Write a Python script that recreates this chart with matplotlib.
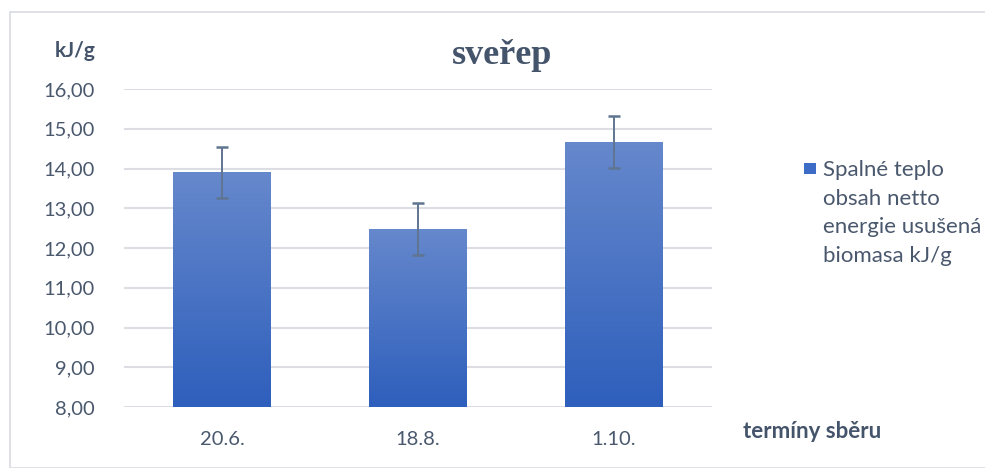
import matplotlib
matplotlib.use("Agg")
import matplotlib.pyplot as plt
import numpy as np
from matplotlib.patches import Rectangle
from matplotlib.colors import LinearSegmentedColormap

categories = ["20.6.", "18.8.", "1.10."]
values = [13.91, 12.48, 14.67]
errors = [0.64, 0.65, 0.65]
yticks = [8, 9, 10, 11, 12, 13, 14, 15, 16]
legend_label = "Spalné teplo\nobsah netto\nenergie usušená\nbiomasa kJ/g"

txt = "#4a586d"
fig = plt.figure(figsize=(9.85, 4.68), dpi=100)
# outer border
fig.patches.append(Rectangle((10/985, 0), 1.0, 1 - 12/468, transform=fig.transFigure,
                             fill=False, edgecolor="#d9dce3", linewidth=1.2))
ax = fig.add_axes([124/985, 1 - 407/468, (712-124)/985, (407-89)/468])
x = np.arange(len(categories))
bars = ax.bar(x, values, width=0.5, color="none", edgecolor="none", zorder=3)
grad = np.linspace(0, 1, 256).reshape(-1, 1)
cmap = LinearSegmentedColormap.from_list("g", ["#2e5fbc", "#6688cc"])
for b in bars:
    bx, bw = b.get_x(), b.get_width()
    im = ax.imshow(grad, extent=[bx, bx + bw, 8, b.get_height()], origin="lower",
                   cmap=cmap, aspect="auto", zorder=3)
    im.set_clip_path(b)
ax.set_xlim(-0.5, 2.5)
ax.set_ylim(8, 16)
ax.errorbar(x, values, yerr=errors, fmt="none", ecolor="#5f7591", elinewidth=1.4,
            capsize=4.5, capthick=1.8, zorder=4)
ax.set_yticks(yticks)
ax.set_yticklabels([f"{v:.2f}".replace(".", ",") for v in yticks])
ax.set_xticks(x)
ax.set_xticklabels(categories)
ax.tick_params(length=0, labelsize=14.5, colors=txt)
ax.tick_params(axis="x", pad=17)
ax.tick_params(axis="y", pad=21)
ax.grid(axis="y", color="#dcdee3", linewidth=1.5, zorder=0)
for s in ax.spines.values():
    s.set_visible(False)
for lab in ax.get_xticklabels() + ax.get_yticklabels():
    lab.set_fontfamily("Lato")
    lab.set_color(txt)

fig.text(502/985, 1 - 56/468, "sveřep", ha="center", va="center", fontsize=26,
         fontweight="bold", family="Liberation Serif", color="#44546a")
fig.text(75/985, 1 - 51/468, "kJ/g", ha="center", va="center", fontsize=15,
         fontweight="bold", family="Lato", color="#44546a")
fig.text(812/985, 1 - 432/468, "termíny sběru", ha="center", va="center", fontsize=16,
         fontweight="bold", family="Lato", color="#44546a")
# legend
fig.patches.append(Rectangle((804/985, 1 - 174/468), 12/985, 11/468, transform=fig.transFigure,
                             facecolor="#3d6cc6", edgecolor="none"))
fig.text(823/985, 1 - 213/468, legend_label, ha="left", va="center", fontsize=16,
         family="Lato", color=txt, linespacing=1.55)
fig.savefig("out.png", dpi=100)
